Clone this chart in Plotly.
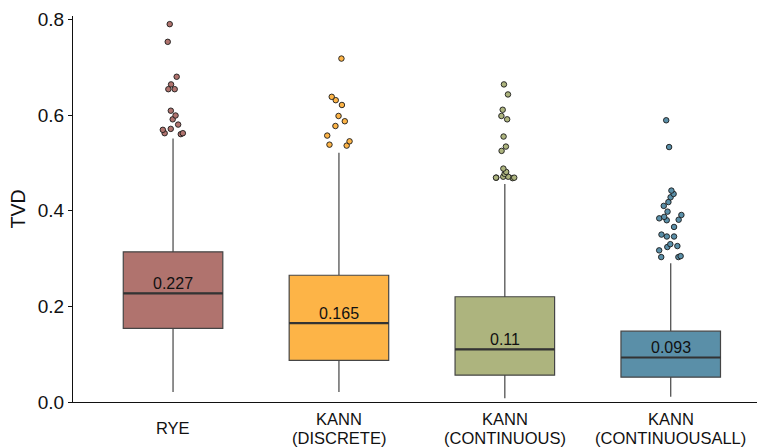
import plotly.graph_objects as go

# Methods compared and their TVD summary statistics
methods = ["RYE", "KANN<br>(DISCRETE)", "KANN<br>(CONTINUOUS)", "KANN<br>(CONTINUOUSALL)"]
box_colors = ["#B0736E", "#FDB447", "#ADB47E", "#5A8FA8"]

q1 = [0.154, 0.087, 0.056, 0.052]
medians = [0.227, 0.165, 0.11, 0.093]
q3 = [0.314, 0.265, 0.220, 0.148]
lower_whisker = [0.021, 0.021, 0.008, 0.011]
upper_whisker = [0.551, 0.521, 0.456, 0.290]

# Points beyond the upper whisker, per method
outliers_rye = [0.790, 0.753, 0.680, 0.664, 0.654, 0.654, 0.609, 0.599,
                0.591, 0.580, 0.571, 0.569, 0.562, 0.562, 0.560]
outliers_discrete = [0.718, 0.638, 0.631, 0.621, 0.598, 0.587, 0.577,
                     0.557, 0.545, 0.538, 0.536]
outliers_continuous = [0.664, 0.643, 0.611, 0.598, 0.591, 0.555, 0.534,
                       0.525, 0.488, 0.481, 0.477, 0.471, 0.471, 0.469,
                       0.469, 0.469, 0.468]
outliers_continuousall = [0.589, 0.533, 0.442, 0.435, 0.428, 0.418, 0.410,
                          0.398, 0.391, 0.387, 0.384, 0.381, 0.380, 0.366,
                          0.350, 0.346, 0.346, 0.330, 0.326, 0.324, 0.317,
                          0.305, 0.303, 0.303]
outliers = [outliers_rye, outliers_discrete, outliers_continuous, outliers_continuousall]

y_ticks = [0.0, 0.2, 0.4, 0.6, 0.8]

FONT = "Liberation Sans, Arial, Helvetica, sans-serif"
BOX_WIDTH = 0.6
LABEL_LINE_PITCH = 19  # px between lines of a category label
LABEL_CENTER = -26     # px below the x axis

fig = go.Figure()
positions = list(range(len(methods)))

for i, pos in enumerate(positions):
    # summary box with whiskers (no caps)
    fig.add_trace(go.Box(
        x=[pos], q1=[q1[i]], median=[medians[i]], q3=[q3[i]],
        lowerfence=[lower_whisker[i]], upperfence=[upper_whisker[i]],
        width=BOX_WIDTH, whiskerwidth=0, boxpoints=False,
        fillcolor=box_colors[i], line=dict(color="#454545", width=1.2),
        showlegend=False, hoverinfo="skip",
    ))
    # jittered outlier points (the box of this trace is hidden)
    fig.add_trace(go.Box(
        x=[pos] * len(outliers[i]), y=outliers[i],
        width=BOX_WIDTH, boxpoints="all", jitter=0.3, pointpos=0,
        fillcolor="rgba(0,0,0,0)", line=dict(color="rgba(0,0,0,0)", width=0),
        marker=dict(color=box_colors[i], size=5.5,
                    line=dict(color="#1a1a1a", width=0.9)),
        showlegend=False,
    ))
    # thicker median line
    fig.add_shape(type="line", xref="x", yref="y",
                  x0=pos - BOX_WIDTH / 2, x1=pos + BOX_WIDTH / 2,
                  y0=medians[i], y1=medians[i],
                  line=dict(color="#333333", width=2.2))
    # median value label
    fig.add_annotation(x=pos, y=medians[i], xref="x", yref="y",
                       text=str(medians[i]), showarrow=False,
                       yanchor="middle", yshift=10,
                       font=dict(family=FONT, size=16, color="#111111"))
    # category label under the axis, lines centred on one baseline
    lines = methods[i].split("<br>")
    n = len(lines)
    for k, line in enumerate(lines):
        offset = (k - (n - 1) / 2) * LABEL_LINE_PITCH
        fig.add_annotation(x=pos, y=0, xref="x", yref="paper",
                           text=line, showarrow=False,
                           yanchor="middle", yshift=LABEL_CENTER - offset,
                           font=dict(family=FONT, size=16.5, color="#111111"))

fig.update_layout(
    width=758, height=447,
    margin=dict(l=73, r=1, t=16, b=45),
    paper_bgcolor="white", plot_bgcolor="white",
    boxmode="overlay",
    font=dict(family=FONT, color="#111111"),
    xaxis=dict(range=[-0.603, 3.52], showgrid=False, zeroline=False,
               showticklabels=False, ticks="", showline=True,
               linecolor="#111111", linewidth=1.3),
    yaxis=dict(range=[0, 0.807], showgrid=False, zeroline=False,
               tickvals=y_ticks, ticktext=[f"{v:.1f}" for v in y_ticks],
               ticks="outside", ticklen=4, tickwidth=1.2, tickcolor="#111111",
               tickfont=dict(family=FONT, size=19, color="#111111"),
               showline=True, linecolor="#111111", linewidth=1.3,
               title=dict(text="TVD", standoff=6,
                          font=dict(family=FONT, size=19.5, color="#111111"))),
)

fig.write_html("out.html")
